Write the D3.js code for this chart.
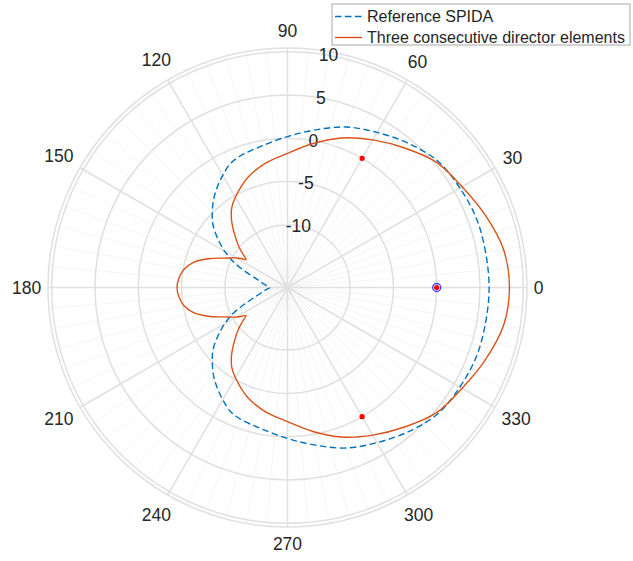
<!DOCTYPE html>
<html><head><meta charset="utf-8">
<script src="https://cdn.jsdelivr.net/npm/d3@7"></script>
<style>
body{margin:0;background:#fff;}
text{font-family:"Liberation Sans",Arial,Helvetica,sans-serif;fill:#262626;}
</style>
</head><body>
<svg id="chart" width="633" height="561"></svg>
<script>
// ---- data (angles in degrees, gain in dB) ----
const refAngles = [0,10,20,30,40,50,60,70,80,90,100,110,115,120,125,130,135,140,145,150,155,160,165,170,175,180,
  185,190,195,200,205,210,215,220,225,230,235,240,245,250,260,270,280,290,300,310,320,330,340,350];
const refDb = [6.05,6.0,6.0,5.75,5.45,4.5,3.45,2.5,1.25,0.2,-0.6,-1.1,-1.5,-2.27,-3.08,-3.95,-4.95,-6.0,-7.4,-8.85,-10.45,-12.3,-13.6,-14.3,-14.8,-15.2,
  -14.8,-14.3,-13.6,-12.3,-10.45,-8.85,-7.4,-6.0,-4.95,-3.95,-3.08,-2.27,-1.5,-1.1,-0.6,0.2,1.25,2.5,3.45,4.5,5.45,5.75,6.0,6.0];

const threeAngles = [0,10,20,30,40,50,60,70,80,90,100,110,120,125,130,135,140,143,146,148,150,155,160,165,170,175,180,
  185,190,195,200,205,210,212,214,217,220,225,230,235,240,250,260,270,280,290,300,310,320,330,340,350];
const threeDb = [8.4,8.1,7.1,6.05,5.25,3.8,2.45,1.15,-0.35,-1.75,-2.65,-3.75,-5.2,-6.0,-7.2,-8.6,-9.9,-10.75,-11.45,-10.9,-10.4,-9.2,-7.5,-6.0,-5.1,-4.65,-4.47,
  -4.65,-5.1,-6.0,-7.5,-9.2,-10.4,-10.9,-11.45,-10.75,-9.9,-8.6,-7.2,-6.0,-5.2,-3.75,-2.65,-1.75,-0.35,1.15,2.45,3.8,5.25,6.05,7.1,8.1];

const elementAngles = [0, 60, -60];
const elementDb = [0, 0, 0];
const feedAngles = [0];
const feedDb = [0];

const rTicks = [-10, -5, 0, 5, 10];
const rTickLabels = ["-10", "-5", "0", "5", "10"];
const thetaTicks = [0,30,60,90,120,150,180,210,240,270,300,330];
const thetaMinor = d3.range(0, 360, 5);
const seriesNames = ["Reference SPIDA", "Three consecutive director elements"];

// ---- layout ----
const cx = 287.5, cy = 287.5;
const rMin = -17.23, rMax = 10, rEdge = 10.43;
const R = 235.8;
const svg = d3.select("#chart");
const r = d3.scaleLinear().domain([rMin, rMax]).range([0, R]);
const toRad = d => d * Math.PI / 180;
const px = (a, v) => cx + r(v) * Math.cos(toRad(a));
const py = (a, v) => cy - r(v) * Math.sin(toRad(a));

const grid = svg.append("g");
// minor spokes
grid.selectAll("line.minor").data(thetaMinor.filter(a => a % 30 !== 0)).join("line")
  .attr("x1", cx).attr("y1", cy)
  .attr("x2", a => px(a, rEdge)).attr("y2", a => py(a, rEdge))
  .attr("stroke", "#f3f3f3").attr("stroke-width", 0.8);
// major spokes
grid.selectAll("line.major").data(thetaTicks).join("line")
  .attr("x1", cx).attr("y1", cy)
  .attr("x2", a => px(a, rEdge)).attr("y2", a => py(a, rEdge))
  .attr("stroke", "#e0e0e0").attr("stroke-width", 1.5);
// circles
grid.selectAll("circle.rc").data(rTicks).join("circle")
  .attr("cx", cx).attr("cy", cy).attr("r", d => r(d))
  .attr("fill", "none").attr("stroke", "#e0e0e0").attr("stroke-width", 1.5);
grid.append("circle").attr("cx", cx).attr("cy", cy).attr("r", r(rEdge))
  .attr("fill", "none").attr("stroke", "#e0e0e0").attr("stroke-width", 1.5);

// theta labels
const tl = svg.append("g").attr("font-size", "17.5px");
thetaTicks.forEach(a => {
  const t = tl.append("text").text(a).attr("text-anchor", "middle").attr("dominant-baseline", "central");
  const w = t.node().getComputedTextLength();
  const rr = r(rMax) + 10.5 + Math.abs(Math.cos(toRad(a))) * w / 2 + Math.abs(Math.sin(toRad(a))) * 10;
  t.attr("x", cx + rr * Math.cos(toRad(a))).attr("y", cy - rr * Math.sin(toRad(a)));
});
// r labels at 80 deg
svg.append("g").attr("font-size", "17.5px").selectAll("text").data(rTicks).join("text")
  .attr("x", d => px(80, d)).attr("y", d => py(80, d))
  .attr("text-anchor", "middle").attr("dominant-baseline", "central")
  .text((d, i) => rTickLabels[i]);

// curves
const mk = (angs, vals) => angs.map((a, i) => [px(a, vals[i]), py(a, vals[i])]);
const line = d3.line().curve(d3.curveCatmullRomClosed.alpha(0.5));
svg.append("path").attr("d", line(mk(refAngles, refDb)))
  .attr("fill", "none").attr("stroke", "#0072BD").attr("stroke-width", 1.4)
  .attr("stroke-dasharray", "6.5,3.5");
svg.append("path").attr("d", line(mk(threeAngles, threeDb)))
  .attr("fill", "none").attr("stroke", "#D95319").attr("stroke-width", 1.4);

// markers
svg.selectAll("circle.feed").data(feedAngles).join("circle")
  .attr("cx", (a, i) => px(a, feedDb[i])).attr("cy", (a, i) => py(a, feedDb[i]))
  .attr("r", 4).attr("fill", "none").attr("stroke", "#3c3cff").attr("stroke-width", 1.3);
svg.selectAll("circle.elem").data(elementAngles).join("circle")
  .attr("cx", (a, i) => px(a, elementDb[i])).attr("cy", (a, i) => py(a, elementDb[i]))
  .attr("r", 2.6).attr("fill", "#ff0000");

// legend
const lg = svg.append("g");
lg.append("rect").attr("x", 332).attr("y", 4).attr("width", 298).attr("height", 41)
  .attr("fill", "#fff").attr("stroke", "#a8a8a8").attr("stroke-width", 1);
const rows = [16.5, 37.5];
lg.append("line").attr("x1", 335).attr("x2", 362).attr("y1", rows[0]).attr("y2", rows[0])
  .attr("stroke", "#0072BD").attr("stroke-width", 1.4).attr("stroke-dasharray", "6.5,3.5");
lg.append("line").attr("x1", 335).attr("x2", 362).attr("y1", rows[1]).attr("y2", rows[1])
  .attr("stroke", "#D95319").attr("stroke-width", 1.4);
seriesNames.forEach((n, i) => {
  lg.append("text").attr("x", 367).attr("y", rows[i]).attr("dominant-baseline", "central")
    .attr("font-size", "16px").text(n);
});
</script>
</body></html>
